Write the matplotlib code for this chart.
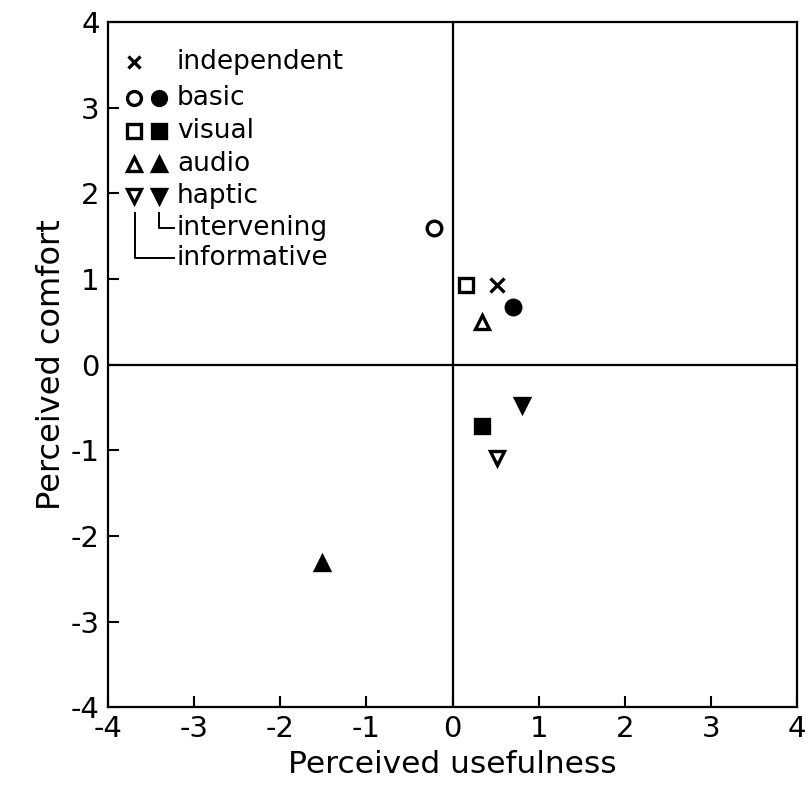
import matplotlib
matplotlib.use("Agg")
import matplotlib.pyplot as plt

plt.rcParams["font.family"] = ["DejaVu Sans"]
plt.rcParams["axes.unicode_minus"] = False

# condition -> (usefulness, comfort)
labels = ["independent", "basic intervening", "basic informative",
          "visual intervening", "visual informative",
          "audio intervening", "audio informative",
          "haptic intervening", "haptic informative"]
usefulness = [0.51, -0.22, 0.70, 0.15, 0.34, 0.34, -1.52, 0.52, 0.81]
comfort = [0.93, 1.60, 0.67, 0.93, -0.72, 0.50, -2.32, -1.09, -0.47]
markers = ["x", "o", "o", "s", "s", "^", "^", "v", "v"]
filled = [True, False, True, False, True, False, True, False, True]

legend_names = ["independent", "basic", "visual", "audio", "haptic"]
legend_markers = ["x", "o", "s", "^", "v"]

ticks = [-4, -3, -2, -1, 0, 1, 2, 3, 4]

fig = plt.figure(figsize=(8.09, 7.91), dpi=100)
ax = fig.add_axes([0.1335, 0.106, 0.852, 0.866])

ax.axhline(0, color="black", lw=1.6)
ax.axvline(0, color="black", lw=1.6)


def draw_marker(x, y, m, fill, size=9):
    if m == "x":
        ax.plot(x, y, marker="x", color="black", ms=size * 0.9, mew=2.4, ls="none")
    else:
        ax.plot(x, y, marker=m, ls="none", ms=size,
                mfc="black" if fill else "white", mec="black", mew=2.4)


for x, y, m, f in zip(usefulness, comfort, markers, filled):
    draw_marker(x, y, m, f, size=10.5)

# hand-drawn style legend
col_open, col_fill, col_text = 0.037, 0.074, 0.100
rows = [0.942, 0.889, 0.841, 0.793, 0.746]
fs_leg = 19
for i, (name, m) in enumerate(zip(legend_names, legend_markers)):
    y = rows[i]
    if m == "x":
        ax.plot(col_open, y, marker="x", color="black", ms=9, mew=2.4,
                transform=ax.transAxes, clip_on=False)
    else:
        ax.plot(col_open, y, marker=m, ms=10, mfc="white", mec="black", mew=2.4,
                transform=ax.transAxes)
        ax.plot(col_fill, y, marker=m, ms=10, mfc="black", mec="black", mew=2.4,
                transform=ax.transAxes)
    ax.text(col_text, y, name, transform=ax.transAxes, fontsize=fs_leg,
            va="center", ha="left")

y_int, y_inf = 0.699, 0.655
ax.text(col_text, y_int, "intervening", transform=ax.transAxes, fontsize=fs_leg,
        va="center", ha="left")
ax.text(col_text, y_inf, "informative", transform=ax.transAxes, fontsize=fs_leg,
        va="center", ha="left")
ax.plot([col_fill, col_fill, col_text - 0.004], [rows[4] - 0.024, y_int, y_int],
        color="black", lw=1.4, transform=ax.transAxes)
ax.plot([col_open + 0.002, col_open + 0.002, col_text - 0.004],
        [rows[4] - 0.024, y_inf, y_inf],
        color="black", lw=1.4, transform=ax.transAxes)

ax.set_xlim(-4, 4)
ax.set_ylim(-4, 4)
ax.set_xticks(ticks)
ax.set_yticks(ticks)
ax.tick_params(direction="in", length=8, width=1.5, labelsize=21, pad=6)
for s in ax.spines.values():
    s.set_linewidth(1.6)

ax.set_xlabel("Perceived usefulness", fontsize=22.5, labelpad=5)
ax.set_ylabel("Perceived comfort", fontsize=23, labelpad=3)

fig.savefig("out.png", dpi=100)
